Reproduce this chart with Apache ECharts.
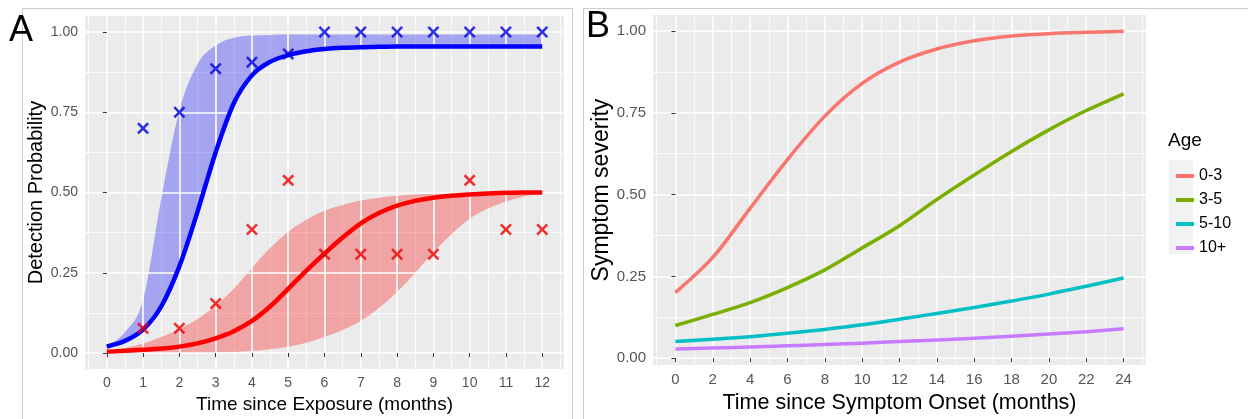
<!DOCTYPE html>
<html lang="en">
<head>
    <meta charset="UTF-8">
    <title>Detection probability and symptom severity</title>
    <style>
        html, body { margin: 0; padding: 0; background: #fff; }
        #chart { width: 1248px; height: 419px; }
    </style>
    <script src="https://cdn.jsdelivr.net/npm/echarts@6/dist/echarts.min.js"></script>
</head>
<body>
<div id="chart"></div>
<script>
    // ---- panel A data ----
    var obsMonths = [1, 2, 3, 4, 5, 6, 7, 8, 9, 10, 11, 12];
    var blueObs = [0.70, 0.75, 0.886, 0.906, 0.932, 1, 1, 1, 1, 1, 1, 1];
    var redObs = [0.077, 0.077, 0.154, 0.385, 0.538, 0.308, 0.308, 0.308, 0.308, 0.538, 0.385, 0.385];

    var fitTimeA = [0, 0.5, 1, 1.5, 2, 2.5, 3, 3.5, 4, 4.5, 5, 5.5, 6, 6.5, 7, 7.5, 8, 8.5, 9, 9.5, 10, 10.5, 11, 11.5, 12];
    var blueFit = [0.02, 0.038, 0.073, 0.145, 0.27, 0.44, 0.625, 0.778, 0.865, 0.907, 0.928, 0.94, 0.947, 0.951, 0.953, 0.954, 0.955, 0.955, 0.955, 0.955, 0.955, 0.955, 0.955, 0.955, 0.955];
    var blueUpper = [0.02, 0.065, 0.165, 0.48, 0.755, 0.9, 0.958, 0.982, 0.989, 0.991, 0.992, 0.992, 0.992, 0.992, 0.992, 0.992, 0.992, 0.992, 0.992, 0.992, 0.992, 0.992, 0.992, 0.992, 0.992];
    var redFit = [0.004, 0.007, 0.01, 0.014, 0.02, 0.03, 0.046, 0.068, 0.1, 0.145, 0.2, 0.257, 0.31, 0.36, 0.404, 0.436, 0.459, 0.474, 0.484, 0.49, 0.494, 0.497, 0.499, 0.5, 0.5];
    var redUpper = [0.004, 0.016, 0.03, 0.05, 0.074, 0.106, 0.147, 0.2, 0.265, 0.327, 0.378, 0.415, 0.443, 0.461, 0.475, 0.484, 0.49, 0.494, 0.497, 0.499, 0.5, 0.5, 0.5, 0.5, 0.5];
    var redLower = [0, 0, 0, 0, 0, 0, 0.001, 0.003, 0.006, 0.012, 0.02, 0.032, 0.05, 0.072, 0.1, 0.14, 0.19, 0.25, 0.313, 0.37, 0.418, 0.45, 0.472, 0.488, 0.497];

    var xTicksA = [0, 1, 2, 3, 4, 5, 6, 7, 8, 9, 10, 11, 12];
    var xMinorA = [-0.5, 0.5, 1.5, 2.5, 3.5, 4.5, 5.5, 6.5, 7.5, 8.5, 9.5, 10.5, 11.5, 12.5];

    // ---- panel B data ----
    var onsetMonths = [0, 2, 4, 6, 8, 10, 12, 14, 16, 18, 20, 22, 24];
    var ageGroups = ['0-3', '3-5', '5-10', '10+'];
    var sev0to3 = [0.2, 0.308, 0.458, 0.607, 0.74, 0.84, 0.905, 0.945, 0.97, 0.985, 0.992, 0.996, 0.999];
    var sev3to5 = [0.1, 0.134, 0.17, 0.216, 0.27, 0.337, 0.405, 0.485, 0.56, 0.632, 0.698, 0.757, 0.808];
    var sev5to10 = [0.051, 0.058, 0.066, 0.076, 0.088, 0.102, 0.119, 0.137, 0.155, 0.175, 0.196, 0.22, 0.245];
    var sev10plus = [0.028, 0.031, 0.034, 0.038, 0.042, 0.046, 0.051, 0.056, 0.061, 0.067, 0.074, 0.081, 0.09];
    var ageColors = ['#F8766D', '#7CAE00', '#00BFC4', '#C77CFF'];

    var xTicksB = [0, 2, 4, 6, 8, 10, 12, 14, 16, 18, 20, 22, 24];
    var xMinorB = [-1, 1, 3, 5, 7, 9, 11, 13, 15, 17, 19, 21, 23, 25];
    var yTicks = [0, 0.25, 0.5, 0.75, 1];
    var yMinor = [0.125, 0.375, 0.625, 0.875];

    function pairs(xs, ys) {
        return xs.map(function (x, i) { return [x, ys[i]]; });
    }

    var font = 'Liberation Sans, Arial, sans-serif';
    var crossPath = 'path://M1.5,0 L5,3.5 L8.5,0 L10,1.5 L6.5,5 L10,8.5 L8.5,10 L5,6.5 L1.5,10 L0,8.5 L3.5,5 L0,1.5 Z';

    function majorAxis(gridIndex, min, max, ticks, fmt, name, nameGap, fs, nfs) {
        return {
            type: 'value', gridIndex: gridIndex, min: min, max: max,
            name: name, nameLocation: 'middle', nameGap: nameGap,
            nameTextStyle: { color: '#000', fontSize: nfs, fontFamily: font },
            axisLine: { show: false },
            axisTick: { show: true, length: 4, lineStyle: { color: '#333', width: 1 }, customValues: ticks },
            axisLabel: { customValues: ticks, formatter: fmt, color: '#555', fontSize: fs, fontFamily: font, margin: 7 },
            splitLine: { show: true, lineStyle: { color: '#fff', width: 1.6 } },
            z: 2
        };
    }
    function minorAxis(gridIndex, min, max, ticks) {
        return {
            type: 'value', gridIndex: gridIndex, min: min, max: max,
            axisLine: { show: false },
            axisTick: { show: false, customValues: ticks },
            axisLabel: { show: false },
            splitLine: { show: true, lineStyle: { color: '#fff', width: 0.8 } },
            z: 1
        };
    }
    var fmtInt = function (v) { return String(v); };
    var fmt2 = function (v) { return v.toFixed(2); };

    // monotone cubic path segments through screen points (x strictly monotone)
    function monoSegments(p) {
        var n = p.length, d = [], m = [], i;
        for (i = 0; i < n - 1; i++) d.push((p[i + 1][1] - p[i][1]) / (p[i + 1][0] - p[i][0]));
        m[0] = d[0]; m[n - 1] = d[n - 2];
        for (i = 1; i < n - 1; i++) m[i] = (d[i - 1] * d[i] <= 0) ? 0 : (d[i - 1] + d[i]) / 2;
        for (i = 0; i < n - 1; i++) {
            if (d[i] === 0) { m[i] = 0; m[i + 1] = 0; continue; }
            var a = m[i] / d[i], b = m[i + 1] / d[i], s = a * a + b * b;
            if (s > 9) { var t = 3 / Math.sqrt(s); m[i] = t * a * d[i]; m[i + 1] = t * b * d[i]; }
        }
        var out = '';
        for (i = 0; i < n - 1; i++) {
            var h = p[i + 1][0] - p[i][0];
            out += ' C' + (p[i][0] + h / 3) + ',' + (p[i][1] + m[i] * h / 3) + ' ' +
                (p[i + 1][0] - h / 3) + ',' + (p[i + 1][1] - m[i + 1] * h / 3) + ' ' +
                p[i + 1][0] + ',' + p[i + 1][1];
        }
        return out;
    }

    // ribbon between two curves, drawn once as one path through the axis scales
    function ribbon(xs, lo, hi, color) {
        return {
            type: 'custom', xAxisIndex: 0, yAxisIndex: 0, silent: true, z: 1,
            data: xs.map(function (x, i) { return [x, lo[i], hi[i]]; }),
            encode: { x: 0, y: [1, 2] },
            renderItem: function (params, api) {
                if (params.dataIndex !== 0) return;
                var top = [], bottom = [];
                for (var i = 0; i < xs.length; i++) {
                    top.push(api.coord([xs[i], hi[i]]));
                    bottom.push(api.coord([xs[i], lo[i]]));
                }
                bottom.reverse();
                var d = 'M' + top[0][0] + ',' + top[0][1] + monoSegments(top) +
                    ' L' + bottom[0][0] + ',' + bottom[0][1] + monoSegments(bottom) + ' Z';
                return { type: 'path', shape: { pathData: d }, style: { fill: color } };
            }
        };
    }

    // smooth fitted curve, stroked with the same monotone smoothing
    function curve(axisIndex, xs, ys, color, width, name) {
        return {
            type: 'custom', name: name, xAxisIndex: axisIndex, yAxisIndex: axisIndex, silent: true, z: 3,
            data: pairs(xs, ys),
            encode: { x: 0, y: 1 },
            itemStyle: { color: color },
            renderItem: function (params, api) {
                if (params.dataIndex !== 0) return;
                var pts = xs.map(function (x, i) { return api.coord([x, ys[i]]); });
                var d = 'M' + pts[0][0] + ',' + pts[0][1] + monoSegments(pts);
                return { type: 'path', shape: { pathData: d },
                    style: { fill: null, stroke: color, lineWidth: width, lineCap: 'butt', lineJoin: 'round' } };
            }
        };
    }

    var chart = echarts.init(document.getElementById('chart'));

    var series = [
        ribbon(fitTimeA, blueFit, blueUpper, 'rgba(0,0,255,0.3)'),
        ribbon(fitTimeA, redLower, redUpper, 'rgba(255,0,0,0.3)'),
        curve(0, fitTimeA, blueFit, '#0000FF', 4.5),
        curve(0, fitTimeA, redFit, '#FF0000', 4.5),
        // panel A observations
        { type: 'scatter', xAxisIndex: 0, yAxisIndex: 0, data: pairs(obsMonths, blueObs), symbol: crossPath, symbolSize: 12,
          itemStyle: { color: '#0000E0' }, z: 4 },
        { type: 'scatter', xAxisIndex: 0, yAxisIndex: 0, data: pairs(obsMonths, redObs), symbol: crossPath, symbolSize: 12,
          itemStyle: { color: '#EE0000' }, z: 4 }
    ];

    [sev0to3, sev3to5, sev5to10, sev10plus].forEach(function (vals, i) {
        series.push(curve(2, onsetMonths, vals, ageColors[i], 3.5, ageGroups[i]));
    });

    var option = {
        backgroundColor: '#fff',
        animation: false,
        grid: [
            { left: 85, top: 16, width: 479, height: 357, show: true, backgroundColor: '#EBEBEB', borderWidth: 0 },
            { left: 653, top: 15, width: 493, height: 351, show: true, backgroundColor: '#EBEBEB', borderWidth: 0 }
        ],
        xAxis: [
            majorAxis(0, -0.6, 12.6, xTicksA, fmtInt, 'Time since Exposure (months)', 25, 14, 19),
            minorAxis(0, -0.6, 12.6, xMinorA),
            majorAxis(1, -1.2, 25.2, xTicksB, fmtInt, 'Time since Symptom Onset (months)', 26, 15, 21.5),
            minorAxis(1, -1.2, 25.2, xMinorB)
        ],
        yAxis: [
            majorAxis(0, -0.05, 1.05, yTicks, fmt2, 'Detection Probability', 37, 14, 20),
            minorAxis(0, -0.05, 1.05, yMinor),
            majorAxis(1, -0.021, 1.049, yTicks, fmt2, 'Symptom severity', 40, 15, 23),
            minorAxis(1, -0.021, 1.049, yMinor)
        ],
        legend: {
            data: ageGroups, orient: 'vertical', left: 1171, top: 163,
            icon: 'rect', itemWidth: 18, itemHeight: 4, itemGap: 8,
            textStyle: { color: '#000', fontSize: 16, fontFamily: font, lineHeight: 16 }
        },
        series: series,
        graphic: [
            { type: 'rect', shape: { x: 22.5, y: 8.5, width: 550, height: 430 }, style: { fill: null, stroke: '#cccccc', lineWidth: 1 }, z: -1 },
            { type: 'rect', shape: { x: 583.5, y: 8.5, width: 700, height: 430 }, style: { fill: null, stroke: '#cccccc', lineWidth: 1 }, z: -1 },
            { type: 'rect', shape: { x: 1169, y: 160, width: 24, height: 94 }, style: { fill: '#F2F2F2' }, z: -1 },
            { type: 'text', left: 9, top: 13, style: { text: 'A', fontSize: 36, fontFamily: font, fill: '#000' } },
            { type: 'text', left: 586, top: 9, style: { text: 'B', fontSize: 36, fontFamily: font, fill: '#000' } },
            { type: 'text', left: 1168, top: 131, style: { text: 'Age', fontSize: 19, fontFamily: font, fill: '#000' } }
        ]
    };

    chart.setOption(option);
</script>
</body>
</html>
